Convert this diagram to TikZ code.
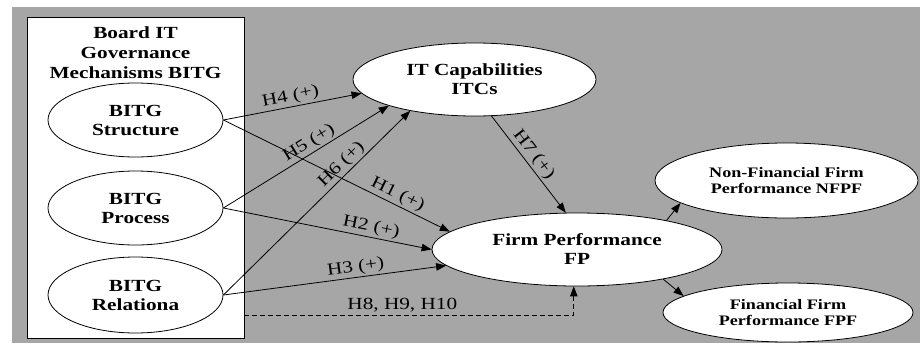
\documentclass[tikz,border=0pt]{standalone}
\usepackage{fontspec}
\setmainfont{Liberation Serif}[FakeStretch=1.25]
\usetikzlibrary{shapes.geometric,arrows.meta}
\definecolor{bg}{RGB}{166,166,166}
\tikzset{
  ell/.style={ellipse, draw=black, line width=0.8pt, fill=white, inner sep=0pt, align=center,
    font=\bfseries\fontsize{17}{19}\selectfont},
  smallell/.style={ell, font=\bfseries\fontsize{14.5}{16.5}\selectfont},
  arr/.style={line width=0.8pt, -{Triangle[length=10pt,width=7.5pt]}},
  lbl/.style={font=\fontsize{17}{19}\selectfont, inner sep=2pt},
}
\begin{document}
\begin{tikzpicture}[x=1pt,y=-1pt]
\useasboundingbox (0,0) rectangle (920,343);
\fill[bg] (12,7) rectangle (920,343);
% left box
\node[draw=black, line width=0.8pt, fill=white, minimum width=217pt, minimum height=321pt, inner sep=0pt] (box) at (135.5,177.5) {};
\node[align=center, font=\bfseries\fontsize{17}{20}\selectfont] (title) at (135.5,53) {Board IT\\Governance\\Mechanisms BITG};
% ellipses
\node[ell, minimum width=175pt, minimum height=74pt] (s) at (135.5,120) {BITG\\Structure};
\node[ell, minimum width=175pt, minimum height=74pt] (p) at (135.5,208) {BITG\\Process};
\node[ell, minimum width=175pt, minimum height=76pt] (r) at (135.5,295) {BITG\\Relationa};
\node[ell, minimum width=243pt, minimum height=73pt] (itc) at (474.5,79.5) {IT Capabilities\\ITCs};
\node[ell, minimum width=290pt, minimum height=73pt] (fp) at (577,249.5) {Firm Performance\\FP};
\node[smallell, minimum width=263pt, minimum height=75pt] (nfpf) at (786.5,180.5) {Non-Financial Firm\\Performance NFPF};
\node[smallell, minimum width=250pt, minimum height=59pt] (fpf) at (788,312.5) {Financial Firm\\Performance FPF};
% arrows
\draw[arr] (s.east) -- node[lbl, above, sloped, pos=0.5] {H4 (+)} (itc.187.5);
\draw[arr] (s.east) -- node[lbl, above, sloped, pos=0.75] {H1 (+)} (fp.172.7);
\draw[arr] (p.east) -- node[lbl, above, sloped, pos=0.55] {H5 (+)} (itc.197.7);
\draw[arr] (p.east) -- node[lbl, above, sloped, pos=0.7] {H2 (+)} (fp.180);
\draw[arr] (r.east) -- node[lbl, above, sloped, pos=0.67] {H6 (+)} (itc.206.4);
\draw[arr] (r.east) -- node[lbl, above, sloped, pos=0.6] {H3 (+)} (fp.187.4);
\draw[arr] (itc.-65) -- node[lbl, above, sloped, pos=0.46] {H7 (+)} (fp.107.7);
\draw[arr] (fp.18) -- (nfpf.192.5);
\draw[arr] (fp.-19) -- (fpf.171.7);
\coordinate (dstart) at (244,315);
\draw[arr, dash pattern=on 5pt off 3pt] (dstart) -| node[lbl, above, pos=0.24] {H8, H9, H10} (fp.265);
\end{tikzpicture}
\end{document}
